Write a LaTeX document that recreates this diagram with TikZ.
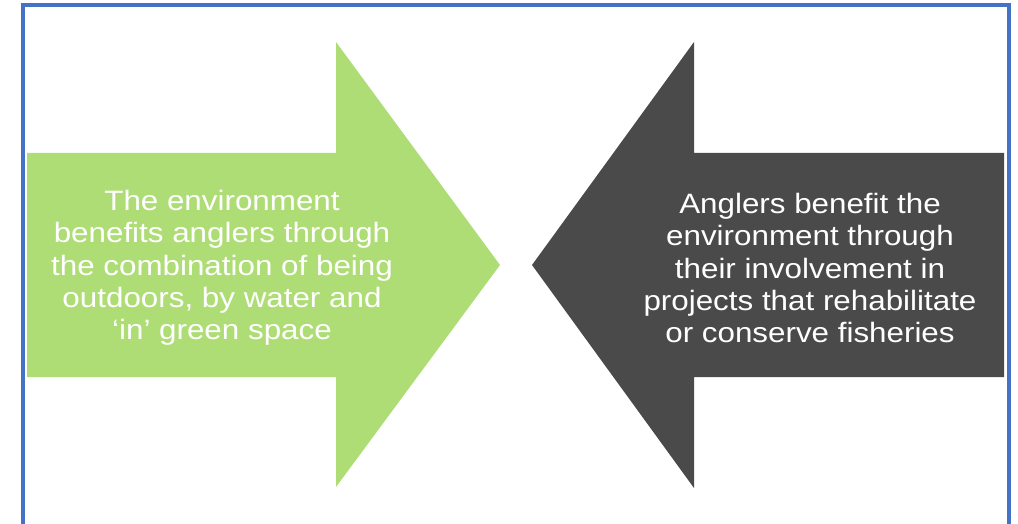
\documentclass[tikz,border=0pt]{standalone}
\usepackage{fontspec}
\setmainfont{Liberation Sans}
\newfontfamily\widesans[FakeStretch=1.12]{Liberation Sans}
\definecolor{frameblue}{RGB}{68,114,196}
\definecolor{leafgreen}{RGB}{174,221,118}
\definecolor{darkarrow}{RGB}{74,74,74}
\begin{document}
\begin{tikzpicture}[x=1pt,y=1pt,
  arrowtext/.style={text=white,align=center,font=\widesans\fontsize{28}{32.3}\selectfont,inner sep=0pt}]
\useasboundingbox (0,0) rectangle (1018,523);
\fill[white] (0,0) rectangle (1018,523);
% frame
\draw[frameblue,line width=4pt] (22.5,-10) -- (22.5,518) -- (1009,518) -- (1009,-10);
% green arrow
\fill[leafgreen] (27,370) -- (336,370) -- (336,481) -- (500,258) -- (336,36) -- (336,146) -- (27,146) -- cycle;
% dark arrow
\fill[darkarrow] (1004,370) -- (694,370) -- (694,481) -- (532,258) -- (694,35) -- (694,146) -- (1004,146) -- cycle;
\node[arrowtext] (lefttext) at (222,255) {The environment\\benefits anglers through\\the combination of being\\outdoors, by water and\\‘in’ green space};
\node[arrowtext] (righttext) at (810,255) {Anglers benefit the\\environment through\\their involvement in\\projects that rehabilitate\\or conserve fisheries};
\end{tikzpicture}
\end{document}
